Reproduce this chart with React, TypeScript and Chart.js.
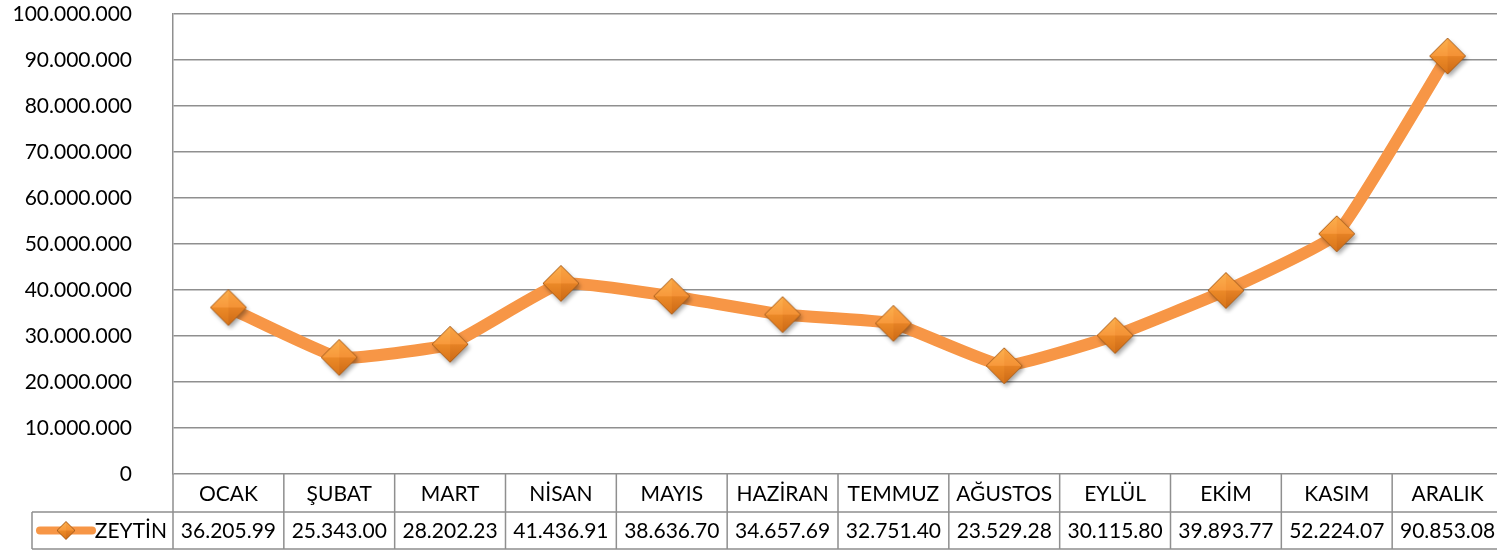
import React, { useEffect, useRef } from "react";
import { Chart, registerables } from "chart.js";

Chart.register(...registerables);

const categories = ["OCAK", "ŞUBAT", "MART", "NİSAN", "MAYIS", "HAZİRAN", "TEMMUZ", "AĞUSTOS", "EYLÜL", "EKİM", "KASIM", "ARALIK"];
const seriesName = "ZEYTİN";
const zeytinValues = [36205990, 25343000, 28202230, 41436910, 38636700, 34657690, 32751400, 23529280, 30115800, 39893770, 52224070, 90853080];
const yMin = 0;
const yMax = 100000000;
const yStep = 10000000;

const ORANGE = "#F79646";
const GRID = "#8f8f8f";
const FONT = "Lato, 'Open Sans', sans-serif";

function fmt(v: number): string {
  return String(Math.round(v)).replace(/\B(?=(\d{3})+(?!\d))/g, ".");
}

function makeDiamond(r: number, shadow: boolean): HTMLCanvasElement {
  const pad = shadow ? 6 : 2;
  const size = Math.ceil(2 * r + 2 * pad);
  const c = document.createElement("canvas");
  c.width = size;
  c.height = size;
  const ctx = c.getContext("2d")!;
  const cx = size / 2;
  const cy = size / 2;
  if (shadow) {
    ctx.save();
    ctx.shadowColor = "rgba(0,0,0,0.35)";
    ctx.shadowBlur = 4;
    ctx.shadowOffsetX = 2;
    ctx.shadowOffsetY = 3;
    ctx.beginPath();
    ctx.moveTo(cx - r, cy);
    ctx.lineTo(cx, cy - r);
    ctx.lineTo(cx + r, cy);
    ctx.lineTo(cx, cy + r);
    ctx.closePath();
    ctx.fillStyle = "#E2801F";
    ctx.fill();
    ctx.restore();
  }
  const tri = (pts: number[][], fill: string | CanvasGradient) => {
    ctx.beginPath();
    ctx.moveTo(pts[0][0], pts[0][1]);
    ctx.lineTo(pts[1][0], pts[1][1]);
    ctx.lineTo(pts[2][0], pts[2][1]);
    ctx.closePath();
    ctx.fillStyle = fill;
    ctx.fill();
  };
  const top = ctx.createLinearGradient(cx, cy - r, cx, cy);
  top.addColorStop(0, "#FBB04E");
  top.addColorStop(1, "#F8993C");
  tri([[cx - r, cy], [cx, cy - r], [cx, cy]], top);
  const top2 = ctx.createLinearGradient(cx, cy - r, cx, cy);
  top2.addColorStop(0, "#F9A443");
  top2.addColorStop(1, "#F49236");
  tri([[cx, cy - r], [cx + r, cy], [cx, cy]], top2);
  const bot = ctx.createLinearGradient(cx, cy, cx, cy + r);
  bot.addColorStop(0, "#EC8A28");
  bot.addColorStop(1, "#D8741A");
  tri([[cx - r, cy], [cx, cy], [cx, cy + r]], bot);
  const bot2 = ctx.createLinearGradient(cx, cy, cx, cy + r);
  bot2.addColorStop(0, "#E68225");
  bot2.addColorStop(1, "#CC6A15");
  tri([[cx, cy], [cx + r, cy], [cx, cy + r]], bot2);
  ctx.beginPath();
  ctx.moveTo(cx - r, cy);
  ctx.lineTo(cx, cy - r);
  ctx.lineTo(cx + r, cy);
  ctx.lineTo(cx, cy + r);
  ctx.closePath();
  ctx.strokeStyle = "#A85E1C";
  ctx.lineWidth = 1;
  ctx.stroke();
  return c;
}

const tablePlugin = {
  id: "dataTable",
  afterDraw(chart: any) {
    const { ctx, chartArea } = chart;
    const xs = chart.scales.x;
    const n = categories.length;
    const colW = (chartArea.right - chartArea.left) / n;
    const rowTop = chartArea.bottom;
    const rowMid = rowTop + 38;
    const rowBot = rowTop + 75;
    const legendLeft = 32;
    ctx.save();
    ctx.strokeStyle = GRID;
    ctx.lineWidth = 1.5;
    ctx.beginPath();
    ctx.moveTo(chartArea.left, rowTop);
    ctx.lineTo(chartArea.left, rowBot);
    for (let i = 0; i < n; i++) {
      const bx = xs.getPixelForValue(i) + colW / 2;
      ctx.moveTo(bx, rowTop);
      ctx.lineTo(bx, rowBot);
    }
    ctx.moveTo(legendLeft, rowMid);
    ctx.lineTo(chartArea.right, rowMid);
    ctx.moveTo(legendLeft, rowBot);
    ctx.lineTo(chartArea.right, rowBot);
    ctx.moveTo(legendLeft, rowMid);
    ctx.lineTo(legendLeft, rowBot);
    ctx.stroke();

    ctx.fillStyle = "#000";
    ctx.font = `21px ${FONT}`;
    ctx.textAlign = "center";
    ctx.textBaseline = "middle";
    for (let i = 0; i < n; i++) {
      const cx = xs.getPixelForValue(i);
      ctx.fillText(categories[i], cx, (rowTop + rowMid) / 2 + 1);
      ctx.fillText(fmt(zeytinValues[i]).slice(0, 9), cx, (rowMid + rowBot) / 2 + 1);
    }
    const ly = (rowMid + rowBot) / 2;
    ctx.strokeStyle = ORANGE;
    ctx.lineWidth = 8;
    ctx.lineCap = "round";
    ctx.beginPath();
    ctx.moveTo(40, ly);
    ctx.lineTo(92, ly);
    ctx.stroke();
    const d = chart.$legendDiamond as HTMLCanvasElement;
    if (d) ctx.drawImage(d, 66 - d.width / 2, ly - d.height / 2);
    ctx.fillStyle = "#000";
    ctx.textAlign = "right";
    ctx.fillText(seriesName, chartArea.left - 6, ly + 1);
    ctx.restore();
  },
};

export default function App() {
  const ref = useRef<HTMLCanvasElement | null>(null);
  useEffect(() => {
    document.body.style.margin = "0";
    let chart: any = null;
    let cancelled = false;
    const build = () => {
      if (cancelled || !ref.current) return;
      const marker = makeDiamond(18, true);
      chart = new Chart(ref.current, {
        type: "line",
        data: {
          labels: categories,
          datasets: [
            {
              label: seriesName,
              data: zeytinValues,
              borderColor: ORANGE,
              backgroundColor: ORANGE,
              borderWidth: 12,
              tension: 0.12,
              pointStyle: marker as any,
              pointRadius: 18,
              pointHoverRadius: 18,
              clip: false as any,
            },
          ],
        },
        options: {
          animation: false,
          responsive: false,
          maintainAspectRatio: false,
          layout: { autoPadding: false, padding: { top: 14, bottom: 86, left: 0, right: 0 } },
          plugins: { legend: { display: false }, tooltip: { enabled: false } },
          scales: {
            x: {
              type: "category",
              offset: true,
              display: false,
            },
            y: {
              min: yMin,
              max: yMax,
              ticks: {
                stepSize: yStep,
                padding: 0,
                color: "#000",
                font: { family: FONT, size: 21 },
                callback: (v: any) => fmt(Number(v)),
              },
              grid: {
                color: GRID,
                lineWidth: 1.5,
                drawTicks: true,
                tickLength: 41,
                tickColor: "rgba(0,0,0,0)",
              },
              border: { display: true, color: GRID, width: 1.5 },
              afterFit: (s: any) => {
                s.width = 173;
              },
            },
          },
        },
        plugins: [tablePlugin],
      });
      (chart as any).$legendDiamond = makeDiamond(9, false);
      chart.draw();
    };
    const fonts: any = (document as any).fonts;
    if (fonts && fonts.load) {
      fonts.load(`21px Lato`).then(build, build);
    } else build();
    return () => {
      cancelled = true;
      if (chart) chart.destroy();
    };
  }, []);
  return (
    <div style={{ width: 1497, height: 560, overflow: "hidden", position: "relative", background: "#fff" }}>
      <canvas ref={ref} width={1503} height={560} style={{ width: 1503, height: 560, display: "block" }} />
    </div>
  );
}
